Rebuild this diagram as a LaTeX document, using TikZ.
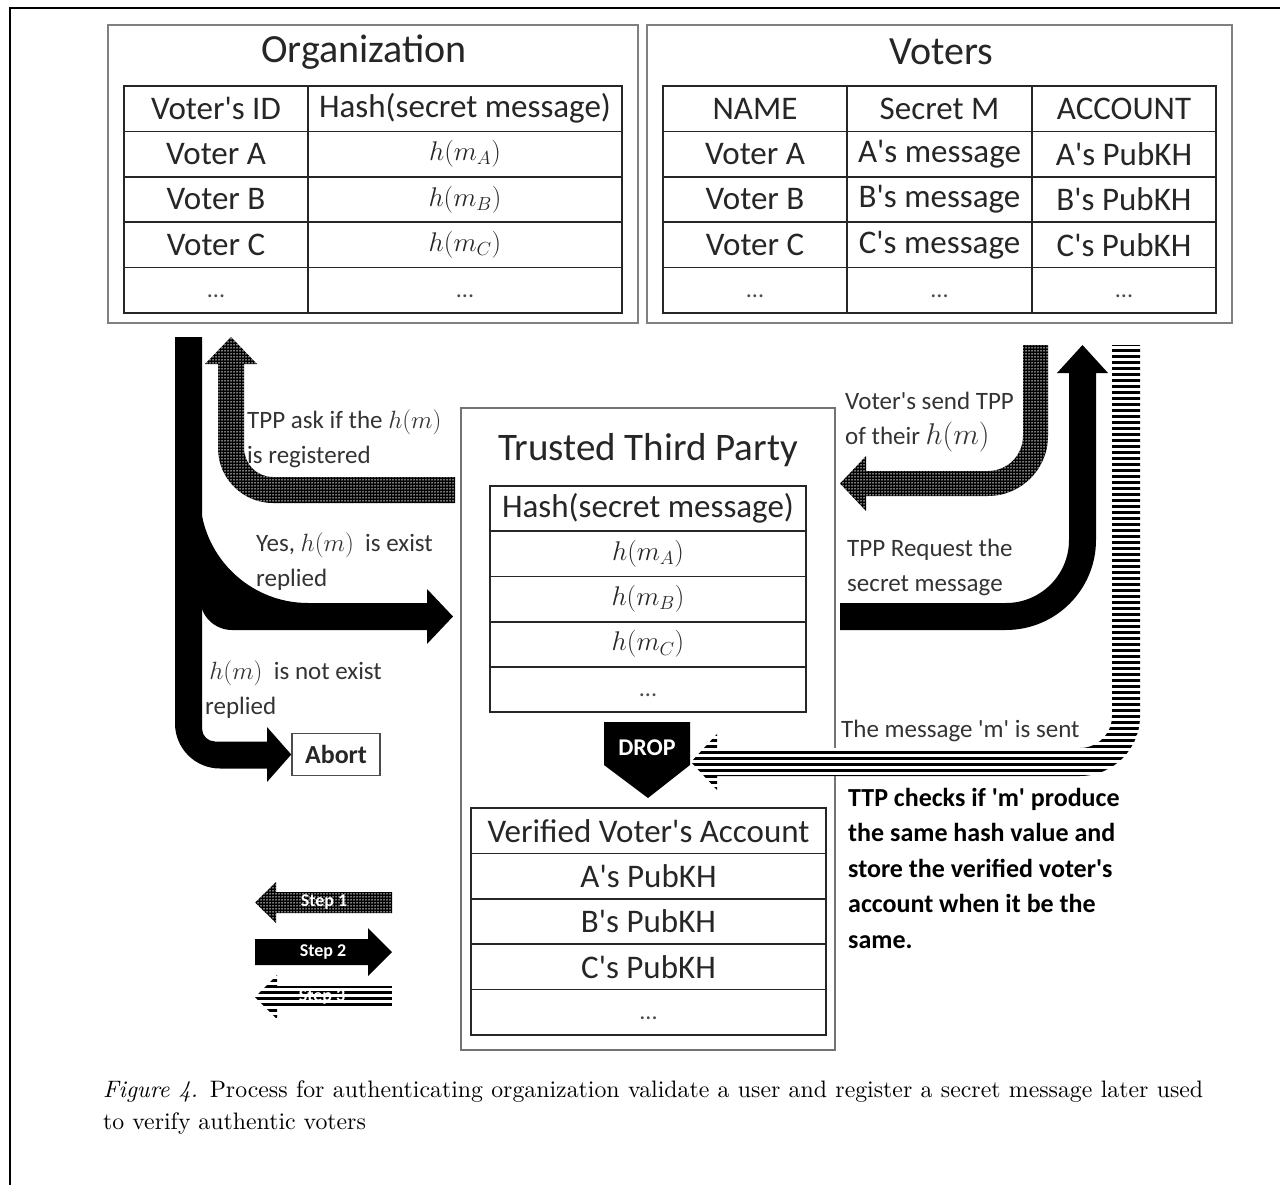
\RequirePackage{fix-cm}
\documentclass[tikz,border=0pt]{standalone}
\usepackage{fontspec}
\newfontfamily\calib{Carlito}
\newfontfamily\capfont{lmroman10-regular.otf}[ItalicFont=lmroman10-italic.otf]
\usetikzlibrary{patterns.meta}

\newcommand\moredots{\raisebox{-7pt}[0pt][0pt]{\fontsize{24}{24}\selectfont\color{black!70}...}}

\tikzset{
  box/.style={draw=black!50, line width=2pt},
  cell/.style={draw=black!85, line width=1.6pt, inner sep=0pt, minimum height=45.4pt,
    text=black!85, font=\calib\fontsize{33}{38}\selectfont},
  hcell/.style={cell, font=\fontsize{27}{32}\selectfont},
  heading/.style={text=black!85, font=\calib\fontsize{40}{46}\selectfont},
  note/.style={anchor=west, align=left, inner sep=0pt, text=black!80,
    font=\calib\fontsize{25}{35}\selectfont},
  stepone/.style={preaction={fill=black}, pattern={Dots[distance=3pt, radius=0.75pt]},
    pattern color=white},
  steptwo/.style={fill=black},
  stepthree/.style={preaction={fill=white}, pattern={Lines[distance=6pt, line width=3pt]},
    pattern color=black},
  legend/.style={text=white, font=\calib\bfseries\fontsize{18}{20}\selectfont}
}

\begin{document}
\begin{tikzpicture}[x=1pt, y=-1pt]
\useasboundingbox (0,0) rectangle (1280,1185);
\draw[line width=2pt] (10,1185) -- (10,8) -- (1280,8);

% organization
\node[box, minimum width=530pt, minimum height=298pt] (org) at (373,174) {};
\node[heading] (orgtitle) at (364,52) {Organization};
\node[cell, minimum width=184pt] (oid0) at (216,108.7) {Voter's ID};
\node[cell, minimum width=314pt] (ohash0) at (465,108.7) {Hash(secret message)};
\foreach \v [count=\i] in {A,B,C} {
  \node[cell, minimum width=184pt] (oid\i) at (216,{108.7+45.4*\i}) {Voter \v};
  \node[hcell, minimum width=314pt] (ohash\i) at (465,{108.7+45.4*\i}) {$h(m_\v)$};
}
\node[cell, minimum width=184pt] (oid4) at (216,290.3) {\moredots};
\node[cell, minimum width=314pt] (ohash4) at (465,290.3) {\moredots};

% voters
\node[box, minimum width=585pt, minimum height=298pt] (voters) at (939.5,174) {};
\node[heading] (votertitle) at (941,52) {Voters};
\node[cell, minimum width=184pt] (vname0) at (755,108.7) {NAME};
\node[cell, minimum width=185pt] (vsecret0) at (939.5,108.7) {Secret M};
\node[cell, minimum width=184pt] (vacc0) at (1124,108.7) {ACCOUNT};
\foreach \v [count=\i] in {A,B,C} {
  \node[cell, minimum width=184pt] (vname\i) at (755,{108.7+45.4*\i}) {Voter \v};
  \node[cell, minimum width=185pt] (vsecret\i) at (939.5,{108.7+45.4*\i}) {\v's message};
  \node[cell, minimum width=184pt] (vacc\i) at (1124,{108.7+45.4*\i}) {\v's PubKH};
}
\node[cell, minimum width=184pt] (vname4) at (755,290.3) {\moredots};
\node[cell, minimum width=185pt] (vsecret4) at (939.5,290.3) {\moredots};
\node[cell, minimum width=184pt] (vacc4) at (1124,290.3) {\moredots};

% trusted third party
\node[draw=black!55, line width=1.5pt, minimum width=374pt, minimum height=642pt] (ttp) at (648,729) {};
\node[heading, font=\calib\fontsize{39}{45}\selectfont] (ttptitle) at (648,450) {Trusted Third Party};
\node[cell, minimum width=316pt] (thash0) at (648,508.6) {Hash(secret message)};
\foreach \v [count=\i] in {A,B,C}
  \node[hcell, minimum width=316pt] (thash\i) at (648,{508.6+45.2*\i}) {$h(m_\v)$};
\node[cell, minimum width=316pt] (thash4) at (648,689.4) {\moredots};

\node[cell, minimum width=355pt] (acc0) at (648.5,830.7) {Verified Voter's Account};
\foreach \v [count=\i] in {A,B,C}
  \node[cell, minimum width=355pt] (acc\i) at (648.5,{830.7+45.4*\i}) {\v's PubKH};
\node[cell, minimum width=355pt] (acc4) at (648.5,1012.3) {\moredots};

\fill (604,722) -- (690,722) -- (690,765) -- (648,798) -- (604,765) -- cycle;
\node[text=white, font=\calib\bfseries\fontsize{24}{28}\selectfont] (drop) at (647,748) {DROP};

\node[draw=black!70, line width=1.5pt, minimum width=88pt, minimum height=42pt, inner sep=0pt,
  text=black!85, font=\calib\bfseries\fontsize{26}{30}\selectfont] (abort) at (336,754.5) {Abort};

% step 1
\path[stepone] (455,477) -- (273,477) arc[start angle=90, end angle=180, radius=29]
  -- (244,364) -- (257,364) -- (231,337) -- (205,364) -- (218,364) -- (218,448)
  arc[start angle=180, end angle=90, radius=55] -- (455,503) -- cycle;
\path[stepone] (1023,345) -- (1048,345) -- (1048,436) arc[start angle=0, end angle=90, radius=60]
  -- (866,496) -- (866,511) -- (840,483.5) -- (866,456) -- (866,471) -- (988,471)
  arc[start angle=90, end angle=0, radius=35] -- cycle;

% step 2
\path[steptwo] (175,337) -- (202,337) -- (202,728.5) arc[start angle=180, end angle=90, radius=13]
  -- (267,741.5) -- (267,727) -- (abort.west) -- (267,782) -- (267,768.5) -- (220,768.5)
  arc[start angle=90, end angle=180, radius=45] -- cycle;
\path[steptwo] (195,495) -- (200,495) arc[start angle=180, end angle=90, radius=108]
  -- (427,603) -- (427,589) -- (453,616.5) -- (427,644) -- (427,630) -- (232,630)
  arc[start angle=90, end angle=180, radius=32] -- (195,598) -- cycle;
\path[steptwo] (840,603) -- (1006,603) arc[start angle=90, end angle=0, radius=63]
  -- (1069,373) -- (1057,373) -- (1082.5,345) -- (1108,373) -- (1096,373) -- (1096,540)
  arc[start angle=0, end angle=90, radius=90] -- (840,630) -- cycle;

% step 3
\path[stepthree] (1112,345) -- (1140,345) -- (1140,716) arc[start angle=0, end angle=90, radius=60]
  -- (717,776) -- (717,790) -- (691,762) -- (717,734) -- (717,748) -- (1080,748)
  arc[start angle=90, end angle=0, radius=32] -- cycle;

% legend
\path[stepone] (392,892) -- (276,892) -- (276,882) -- (255,902.5) -- (276,923) -- (276,913) -- (392,913) -- cycle;
\node[legend] (leg1) at (324,902.5) {Step 1};
\path[steptwo] (255,939) -- (368,939) -- (368,928) -- (392,952) -- (368,976) -- (368,965) -- (255,965) -- cycle;
\node[legend] (leg2) at (323,952) {Step 2};
\path[stepthree] (392,986) -- (277,986) -- (277,975) -- (255,997) -- (277,1019) -- (277,1008) -- (392,1008) -- cycle;
\node[legend] (leg3) at (322,997) {Step 3};

% labels
\node[note] (ask) at (247,439) {TPP ask if the $h(m)$\\is registered};
\node[note] (yes) at (256,561.5) {Yes, $h(m)$\ \ is exist\\replied};
\node[note] (noexist) at (205,689.5) {\,$h(m)$\ \ is not exist\\replied};
\node[note] (send) at (845,422.5) {Voter's send TPP\\of their {\fontsize{30}{35}\selectfont$h(m)$}};
\node[note] (request) at (847,567.5) {TPP Request the\\secret message};
\node[note] (sent) at (841,731) {The message 'm' is sent};
\node[note, text=black, font=\calib\bfseries\fontsize{26}{35.5}\selectfont] (checks) at (848,868)
  {TTP checks if 'm' produce\\the same hash value and\\store the verified voter's\\account when it be the\\same.};

\node[anchor=north west, text width=1100pt, align=justify, inner sep=0pt,
  font=\capfont\fontsize{23.8}{32}\selectfont] (caption) at (103,1081)
  {\textit{Figure 4.} Process for authenticating organization validate a user and register a secret message later used\linebreak to verify authentic voters};
\end{tikzpicture}
\end{document}
